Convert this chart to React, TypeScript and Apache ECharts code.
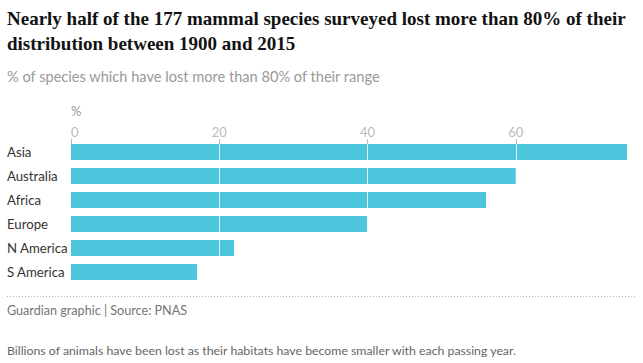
import React, { useEffect, useRef } from "react";
import * as echarts from "echarts";

const categories = ["Asia", "Australia", "Africa", "Europe", "N America", "S America"];
const values = [75, 60, 56, 40, 22, 17];
const titleText = "Nearly half of the 177 mammal species surveyed lost more than 80% of their\ndistribution between 1900 and 2015";
const subtitleText = "% of species which have lost more than 80% of their range";
const unitText = "%";
const sourceText = "Guardian graphic | Source: PNAS";
const captionText = "Billions of animals have been lost as their habitats have become smaller with each passing year.";

const SANS = "Lato, 'Noto Sans', sans-serif";

export default function App() {
  const ref = useRef<HTMLDivElement>(null);
  useEffect(() => {
    document.body.style.margin = "0";
    if (!ref.current) return;
    const chart = echarts.init(ref.current, undefined, { renderer: "svg" });
    const valueAxisBase = {
      type: "value" as const,
      gridIndex: 0,
      position: "top" as const,
      min: 0,
      max: 80,
      interval: 20,
    };
    chart.setOption({
      animation: false,
      backgroundColor: "#ffffff",
      grid: {
        left: 71,
        right: -21,
        top: 140,
        height: 144,
        containLabel: false,
        outerBoundsMode: "none",
      },
      xAxis: [
        {
          ...valueAxisBase,
          z: 4,
          offset: -4,
          axisLine: { show: false },
          axisTick: { show: true, length: 5, lineStyle: { color: "#bbbbbb", width: 1 } },
          axisLabel: {
            color: "#bbbbbb",
            fontSize: 13,
            fontFamily: SANS,
            margin: 6,
            alignMinLabel: "left",
            showMaxLabel: false,
          },
          splitLine: { show: false },
        },
        {
          ...valueAxisBase,
          z: 3,
          axisLine: { show: false },
          axisTick: { show: false },
          axisLabel: { show: false },
          splitLine: {
            show: true,
            showMinLine: false,
            lineStyle: { color: "rgba(255,255,255,0.8)", width: 1 },
          },
        },
      ],
      yAxis: {
        type: "category",
        inverse: true,
        data: categories,
        axisLine: { show: false },
        axisTick: { show: false },
        splitLine: { show: false },
        axisLabel: {
          color: "#333333",
          fontSize: 13.2,
          fontFamily: SANS,
          align: "left",
          margin: 64,
        },
      },
      series: [
        {
          type: "bar",
          xAxisIndex: 0,
          data: values,
          barWidth: 16,
          itemStyle: { color: "#4dc5dd" },
          z: 2,
        },
      ],
      graphic: [
        {
          type: "text",
          left: 7,
          top: 6,
          style: {
            text: titleText,
            font: "bold 19px 'Liberation Serif', serif",
            fill: "#121212",
            lineHeight: 25,
          },
        },
        {
          type: "text",
          left: 7,
          top: 69,
          style: { text: subtitleText, font: `14.6px ${SANS}`, fill: "#999999" },
        },
        {
          type: "text",
          left: 71,
          top: 104,
          style: { text: unitText, font: `13px ${SANS}`, fill: "#999999" },
        },
        {
          type: "line",
          shape: { x1: 7, y1: 296.5, x2: 637, y2: 296.5 },
          style: { stroke: "#b3b3b3", lineWidth: 1, lineDash: [1, 2] },
        },
        {
          type: "text",
          left: 7,
          top: 304,
          style: { text: sourceText, font: `12.6px ${SANS}`, fill: "#767676" },
        },
        {
          type: "text",
          left: 7,
          top: 344,
          style: { text: captionText, font: `12.3px ${SANS}`, fill: "#666666" },
        },
      ],
    });
    return () => chart.dispose();
  }, []);
  return <div ref={ref} style={{ width: 643, height: 363 }} />;
}
